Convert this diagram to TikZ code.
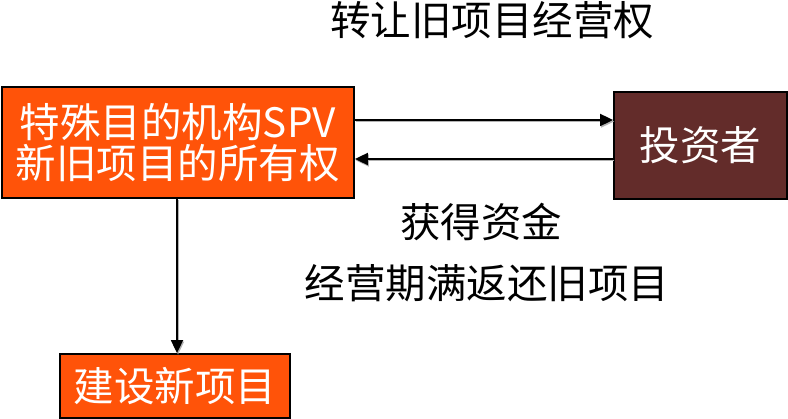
\documentclass[tikz,border=0pt]{standalone}
\usepackage{fontspec}
\setmainfont{Noto Sans CJK SC}
\usetikzlibrary{arrows.meta}
\definecolor{boxorange}{HTML}{FF5309}
\definecolor{boxbrown}{HTML}{632C2A}
\begin{document}
\begin{tikzpicture}[x=1pt,y=-1pt,
  boxbase/.style={draw=black,line width=1.8pt,inner sep=0pt,text=white,
    font=\fontsize{40.5}{41}\selectfont,align=center},
  conn/.style={line width=1.8pt,draw=black,-{Triangle[length=13pt,width=12pt]},
    preaction={draw=gray!60,line width=1.8pt,-{Triangle[length=13pt,width=12pt]},transform canvas={shift={(1pt,-1.5pt)}}}},
  lbl/.style={inner sep=0pt,font=\fontsize{40.5}{41}\selectfont,text=black}]
\useasboundingbox (0,0) rectangle (788,419);
\node[boxbase,fill=boxorange,minimum width=352pt,minimum height=111pt] (spv) at (178,142.5) {特殊目的机构SPV\\新旧项目的所有权};
\node[boxbase,fill=boxbrown,minimum width=173pt,minimum height=107pt] (inv) at (700.5,145.5) {投资者};
\node[boxbase,fill=boxorange,minimum width=230pt,minimum height=64pt] (new) at (175,386) {建设新项目};
\coordinate (ya) at (0,120);
\coordinate (yb) at (0,159);
\coordinate (xv) at (177,0);
\draw[conn] (spv.east |- ya) -- (inv.west |- ya);
\draw[conn] (inv.west |- yb) -- (spv.east |- yb);
\draw[conn] (xv |- spv.south) -- (xv |- new.north);
\node[lbl] (t1) at (492,20) {转让旧项目经营权};
\node[lbl] (t2) at (481,222) {获得资金};
\node[lbl] (t3) at (487,283) {经营期满返还旧项目};
\end{tikzpicture}
\end{document}
